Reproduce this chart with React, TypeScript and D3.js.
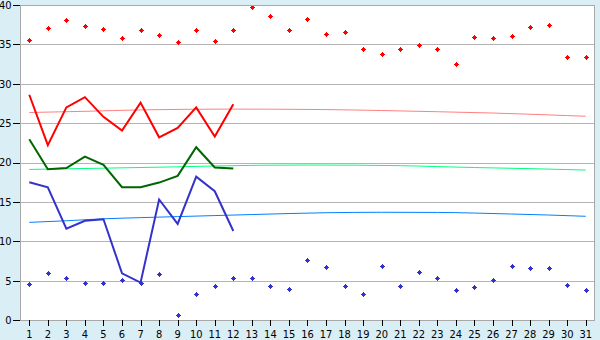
import React from "react";
import * as d3 from "d3";

const days = [1,2,3,4,5,6,7,8,9,10,11,12,13,14,15,16,17,18,19,20,21,22,23,24,25,26,27,28,29,30,31];
const yTicks = [0,5,10,15,20,25,30,35,40];

const redScatter = [35.5,37.1,38.1,37.3,36.9,35.8,36.8,36.2,35.3,36.8,35.4,36.8,39.7,38.6,36.8,38.2,36.3,36.6,34.4,33.8,34.4,34.9,34.4,32.5,35.9,35.8,36.0,37.2,37.4,33.4,33.4];
const blueScatter = [4.6,5.93,5.3,4.75,4.75,5.04,4.75,5.8,0.6,3.26,4.28,5.3,5.3,4.28,3.9,7.58,6.7,4.28,3.26,6.8,4.28,6.06,5.3,3.77,4.15,5.04,6.8,6.57,6.57,4.4,3.77];

const lineDays = [1,2,3,4,5,6,7,8,9,10,11,12];
const redLine = [28.6,22.2,27.0,28.3,25.8,24.05,27.6,23.2,24.4,27.0,23.3,27.4];
const greenLine = [22.96,19.14,19.3,20.75,19.7,16.86,16.86,17.45,18.3,21.94,19.36,19.23];
const blueLine = [17.5,16.86,11.6,12.6,12.8,5.93,4.75,15.3,12.2,18.2,16.35,11.3];

const redTrendDays = [1,4,7,12,17,20,23,26,28,30,31];
const redTrend = [26.35,26.5,26.68,26.78,26.72,26.6,26.45,26.28,26.13,25.96,25.87];
const greenTrendDays = [1,3,6,9,11,16,21,23,25,28,30,31];
const greenTrend = [19.12,19.2,19.32,19.45,19.56,19.68,19.6,19.48,19.36,19.22,19.1,19.04];
const blueTrendDays = [1,3,5,7,9,11,13,15,17,20,23,25,27,29,31];
const blueTrend = [12.4,12.6,12.85,13.0,13.13,13.26,13.39,13.52,13.62,13.68,13.66,13.58,13.46,13.33,13.17];

const W = 600, H = 340;
const L = 20, R = 595, T = 5, B = 320;
const FONT = "'DejaVu Sans Condensed', 'DejaVu Sans', sans-serif";

export default function App() {
  const x = d3.scaleBand<number>().domain(days).range([L, R]).padding(0);
  const cx = (d: number) => (x(d) as number) + x.bandwidth() / 2;
  const xl = d3.scaleLinear().domain([1, 31]).range([cx(1), cx(31)]);
  const y = d3.scaleLinear().domain([0, 40]).range([B, T]);

  const line = d3.line<[number, number]>().x(p => xl(p[0])).y(p => y(p[1]));
  const smooth = d3.line<[number, number]>().x(p => xl(p[0])).y(p => y(p[1])).curve(d3.curveMonotoneX);

  const zip = (a: number[], b: number[]) => a.map((d, i) => [d, b[i]] as [number, number]);

  const marker = (px: number, py: number) => {
    const X = Math.round(px) + 0.5, Y = Math.round(py) + 0.5;
    return `M${X - 0.5},${Y - 2.5}h1v1h1v1h1v1h-1v1h-1v1h-1v-1h-1v-1h-1v-1h1v-1h1z`;
  };

  return (
    <svg width={W} height={H} style={{ position: "absolute", left: 0, top: 0 }} fontFamily={FONT}>
      <rect x={0} y={0} width={W} height={H} fill="#d9eef5" />
      <rect x={L} y={T} width={R - L} height={B - T} fill="#ffffff" />
      {yTicks.filter(t => t > 0 && t < 40).map(t => (
        <line key={t} x1={L} x2={R} y1={Math.round(y(t)) + 0.5} y2={Math.round(y(t)) + 0.5} stroke="#b4b4b4" strokeWidth={1} shapeRendering="crispEdges" />
      ))}
      <path d={smooth(zip(redTrendDays, redTrend)) as string} fill="none" stroke="#ff8080" strokeWidth={1} />
      <path d={smooth(zip(greenTrendDays, greenTrend)) as string} fill="none" stroke="#00ff80" strokeWidth={1} />
      <path d={smooth(zip(blueTrendDays, blueTrend)) as string} fill="none" stroke="#0080ff" strokeWidth={1} />
      <path d={line(zip(lineDays, redLine)) as string} fill="none" stroke="#ff0000" strokeWidth={2} />
      <path d={line(zip(lineDays, greenLine)) as string} fill="none" stroke="#006600" strokeWidth={2} />
      <path d={line(zip(lineDays, blueLine)) as string} fill="none" stroke="#3333cc" strokeWidth={2} />
      {days.map((d, i) => (
        <path key={"r" + d} d={marker(cx(d), y(redScatter[i]))} fill="#ff0000" shapeRendering="crispEdges" />
      ))}
      {days.map((d, i) => (
        <path key={"b" + d} d={marker(cx(d), y(blueScatter[i]))} fill="#3333cc" shapeRendering="crispEdges" />
      ))}
      <rect x={L + 0.5} y={T + 0.5} width={R - L - 1} height={B - T} fill="none" stroke="#a8a8a8" strokeWidth={1} shapeRendering="crispEdges" />
      {yTicks.map(t => (
        <g key={"yt" + t}>
          <line x1={13} x2={L} y1={Math.round(y(t)) + 0.5} y2={Math.round(y(t)) + 0.5} stroke="#000" strokeWidth={1} shapeRendering="crispEdges" />
          <text x={11.5} y={y(t)} dy="0.36em" textAnchor="end" fontSize={11} fill="#000">{t}</text>
        </g>
      ))}
      {days.map(d => (
        <g key={"xt" + d}>
          <line x1={Math.round(cx(d)) + 0.5} x2={Math.round(cx(d)) + 0.5} y1={B} y2={B + 6} stroke="#000" strokeWidth={1} shapeRendering="crispEdges" />
          <text x={cx(d)} y={338} textAnchor="middle" fontSize={11} fill="#000">{d}</text>
        </g>
      ))}
    </svg>
  );
}
